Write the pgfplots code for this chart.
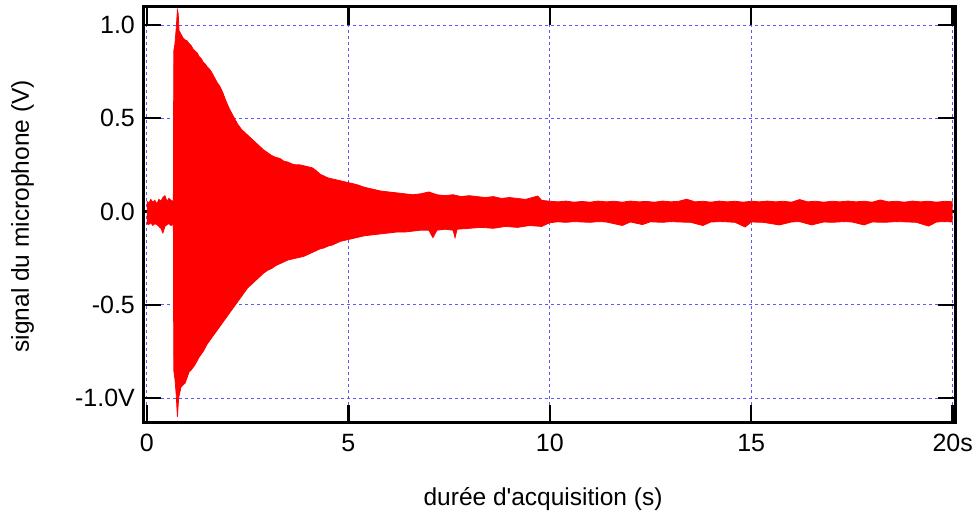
\documentclass[border=0pt]{standalone}
\usepackage{fontspec}
\setmainfont{Liberation Sans}[Ligatures=TeXOff]
\usepackage{pgfplots}
\pgfplotsset{compat=1.18}
\usepackage{pgfplotstable}
\usepgfplotslibrary{fillbetween}

\pgfplotstableread{
t v
0.00 0.055
0.05 0.045
0.10 0.065
0.15 0.050
0.20 0.060
0.25 0.040
0.30 0.065
0.35 0.055
0.40 0.075
0.45 0.085
0.50 0.055
0.55 0.070
0.60 0.060
0.65 0.055
0.66 0.060
0.67 0.86
0.70 0.90
0.73 0.98
0.76 1.08
0.78 1.06
0.80 0.97
0.85 0.95
0.90 0.93
0.95 0.92
1.00 0.915
1.05 0.90
1.10 0.89
1.15 0.87
1.20 0.86
1.25 0.85
1.30 0.83
1.35 0.82
1.40 0.80
1.45 0.79
1.50 0.775
1.55 0.765
1.60 0.75
1.65 0.73
1.70 0.71
1.75 0.69
1.80 0.675
1.85 0.655
1.90 0.63
1.95 0.60
2.00 0.575
2.05 0.55
2.10 0.53
2.15 0.51
2.20 0.49
2.25 0.47
2.30 0.455
2.35 0.44
2.40 0.43
2.45 0.42
2.50 0.41
2.60 0.39
2.70 0.37
2.80 0.35
2.90 0.33
3.00 0.315
3.10 0.30
3.20 0.29
3.30 0.285
3.40 0.27
3.50 0.265
3.60 0.255
3.70 0.25
3.80 0.25
3.90 0.245
4.00 0.24
4.10 0.235
4.20 0.22
4.30 0.20
4.40 0.19
4.50 0.18
4.60 0.175
4.70 0.17
4.80 0.165
4.90 0.16
5.00 0.155
5.20 0.145
5.40 0.13
5.60 0.12
5.80 0.11
6.00 0.105
6.20 0.10
6.40 0.095
6.60 0.09
6.80 0.095
7.00 0.105
7.20 0.09
7.40 0.085
7.60 0.09
7.80 0.08
8.00 0.085
8.20 0.08
8.40 0.075
8.60 0.08
8.80 0.07
9.00 0.075
9.20 0.07
9.40 0.065
9.70 0.083
9.80 0.06
10.0 0.055
10.2 0.052
10.4 0.056
10.6 0.050
10.8 0.054
11.0 0.050
11.2 0.056
11.4 0.052
11.6 0.055
11.8 0.050
12.0 0.056
12.2 0.052
12.4 0.054
12.6 0.050
12.8 0.056
13.0 0.052
13.2 0.055
13.4 0.066
13.6 0.052
13.8 0.055
14.0 0.050
14.2 0.056
14.4 0.052
14.6 0.055
14.8 0.050
15.0 0.055
15.2 0.052
15.4 0.056
15.6 0.052
15.8 0.055
16.0 0.050
16.2 0.064
16.4 0.052
16.6 0.055
16.8 0.050
17.0 0.055
17.2 0.052
17.4 0.056
17.6 0.052
17.8 0.055
18.0 0.050
18.2 0.062
18.4 0.052
18.6 0.055
18.8 0.050
19.0 0.056
19.2 0.052
19.4 0.055
19.6 0.050
19.8 0.055
20.0 0.052
}\envup

\pgfplotstableread{
t v
0.00 -0.065
0.05 -0.070
0.10 -0.060
0.15 -0.075
0.20 -0.065
0.25 -0.070
0.30 -0.080
0.35 -0.090
0.40 -0.115
0.45 -0.080
0.50 -0.070
0.55 -0.065
0.60 -0.075
0.65 -0.070
0.66 -0.070
0.67 -0.85
0.70 -0.90
0.73 -0.98
0.76 -1.10
0.79 -1.00
0.85 -0.94
0.90 -0.93
0.95 -0.92
1.00 -0.89
1.05 -0.86
1.10 -0.85
1.20 -0.82
1.30 -0.78
1.40 -0.75
1.50 -0.71
1.60 -0.68
1.70 -0.65
1.80 -0.62
1.90 -0.59
2.00 -0.56
2.10 -0.53
2.20 -0.50
2.30 -0.47
2.40 -0.44
2.50 -0.41
2.60 -0.39
2.70 -0.37
2.80 -0.35
2.90 -0.33
3.00 -0.315
3.10 -0.305
3.20 -0.29
3.30 -0.28
3.40 -0.27
3.50 -0.26
3.60 -0.255
3.70 -0.25
3.80 -0.245
3.90 -0.24
4.00 -0.23
4.10 -0.22
4.20 -0.21
4.30 -0.20
4.40 -0.195
4.50 -0.185
4.60 -0.18
4.70 -0.17
4.80 -0.16
4.90 -0.155
5.00 -0.15
5.20 -0.14
5.40 -0.13
5.60 -0.125
5.80 -0.12
6.00 -0.115
6.20 -0.11
6.40 -0.11
6.60 -0.105
6.80 -0.10
7.00 -0.10
7.10 -0.14
7.20 -0.10
7.40 -0.095
7.60 -0.10
7.65 -0.14
7.70 -0.095
8.00 -0.09
8.30 -0.085
8.60 -0.09
8.90 -0.08
9.20 -0.085
9.50 -0.075
9.80 -0.08
10.0 -0.060
10.2 -0.055
10.4 -0.058
10.6 -0.054
10.8 -0.056
11.0 -0.058
11.2 -0.054
11.4 -0.056
11.8 -0.075
12.0 -0.056
12.3 -0.070
12.5 -0.055
12.8 -0.058
13.0 -0.054
13.2 -0.056
13.5 -0.058
13.8 -0.075
14.0 -0.056
14.3 -0.054
14.6 -0.058
14.85 -0.083
15.0 -0.056
15.3 -0.058
15.7 -0.072
16.0 -0.056
16.2 -0.054
16.5 -0.072
16.8 -0.056
17.0 -0.058
17.3 -0.054
17.5 -0.056
17.8 -0.072
18.0 -0.056
18.3 -0.058
18.6 -0.054
18.9 -0.056
19.1 -0.058
19.4 -0.078
19.6 -0.056
19.8 -0.054
20.0 -0.056
}\envlo

\begin{document}
\begin{tikzpicture}
\begin{axis}[
  name=ax,
  scale only axis,
  width=812.3pt, height=416pt,
  xmin=-0.084, xmax=20.074,
  ymin=-1.132, ymax=1.098,
  xtick={0,5,10,15,20},
  xticklabels={0,5,10,15,20s},
  ytick={-1,-0.5,0,0.5,1},
  yticklabels={-1.0V,-0.5,0.0,0.5,1.0},
  tick align=inside,
  major tick length=18pt,
  every tick/.style={black, line width=2.5pt},
  axis line style={black, line width=2.5pt},
  grid=major,
  major grid style={blue!65, line width=0.8pt, dash pattern=on 3pt off 3pt},
  tick label style={font=\fontsize{25}{29}\selectfont},
  /pgf/number format/assume math mode=true,
  yticklabel style={anchor=east, xshift=-5pt},
  xticklabel style={anchor=north, yshift=-8pt},
  xlabel={durée d'acquisition (s)},
  ylabel={signal du microphone (V)},
  label style={font=\fontsize{24.5}{28}\selectfont},
  xlabel style={at={(axis description cs:0.492,-0.198)}, anchor=base},
  ylabel style={at={(axis description cs:-0.141,0.496)}, anchor=base},
]
\addplot[name path=up, red, line width=0.8pt] table[x=t, y=v] {\envup};
\addplot[name path=lo, red, line width=0.8pt] table[x=t, y=v] {\envlo};
\addplot[red, draw=none] fill between[of=up and lo];
\end{axis}
\pgfresetboundingbox
\path ([xshift=-143.4pt,yshift=-92.3pt]ax.south west) rectangle ([xshift=20.3pt,yshift=6.7pt]ax.north east);
\end{tikzpicture}
\end{document}
